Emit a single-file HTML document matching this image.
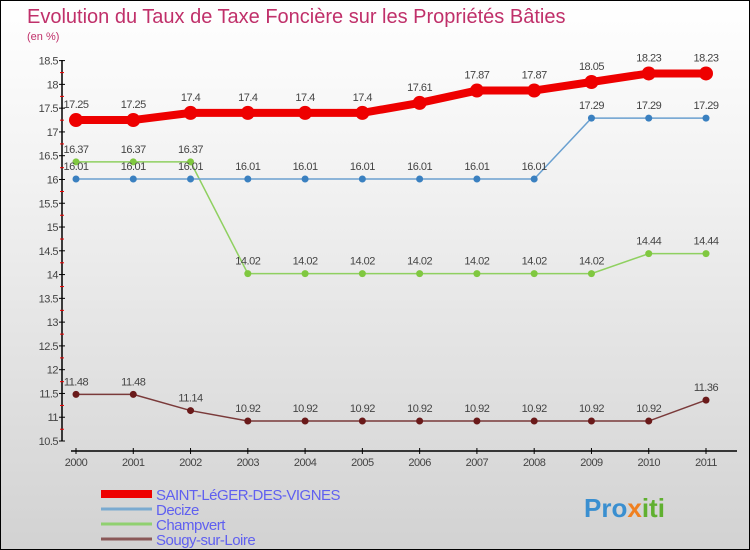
<!DOCTYPE html>
<html><head><meta charset="utf-8"><style>
body{margin:0}
#c{width:750px;height:550px;position:relative;box-sizing:border-box;border:1px solid #000;background:linear-gradient(#ffffff,#f3f3f3 30%,#d2d2d2);font-family:"Liberation Sans",sans-serif;overflow:hidden}
text{font-family:"Liberation Sans",sans-serif}
</style></head><body>
<div id="c">
<svg id="s" width="750" height="550">
<text x="26" y="22" font-size="20" fill="#c0306a">Evolution du Taux de Taxe Foncière sur les Propriétés Bâties</text>
<text x="26" y="39" font-size="11" fill="#c0306a">(en %)</text>
<text x="583" y="516" font-size="26" font-weight="bold" fill="#3a8fd0">Pro<tspan fill="#f08020">x</tspan><tspan fill="#60b030">iti</tspan></text>
</svg>
</div>
<script>
const years=[2000,2001,2002,2003,2004,2005,2006,2007,2008,2009,2010,2011];
const saint=[17.25,17.25,17.4,17.4,17.4,17.4,17.61,17.87,17.87,18.05,18.23,18.23];
const decize=[16.01,16.01,16.01,16.01,16.01,16.01,16.01,16.01,16.01,17.29,17.29,17.29];
const champvert=[16.37,16.37,16.37,14.02,14.02,14.02,14.02,14.02,14.02,14.02,14.44,14.44];
const sougy=[11.48,11.48,11.14,10.92,10.92,10.92,10.92,10.92,10.92,10.92,10.92,11.36];
const yTicks=[10.5,11,11.5,12,12.5,13,13.5,14,14.5,15,15.5,16,16.5,17,17.5,18,18.5];
const seriesNames=["SAINT-LéGER-DES-VIGNES","Decize","Champvert","Sougy-sur-Loire"];
const NS="http://www.w3.org/2000/svg",s=document.getElementById('s');
const X=i=>75+i*(630/11), Y=v=>440-(v-10.5)*47.55;
function el(t,a,p){const e=document.createElementNS(NS,t);for(const k in a)e.setAttribute(k,a[k]);(p||s).appendChild(e);return e;}
let ya=el('line',{x1:61,y1:59,x2:61,y2:440,stroke:'#000','stroke-width':1.5});

let xa=el('line',{x1:70,y1:450,x2:736,y2:450,stroke:'#000','stroke-width':1.5});

yTicks.forEach((v,k)=>{const y=Y(v);
 el('line',{x1:58,y1:y,x2:64,y2:y,stroke:'#000'});
 if(k>0) el('line',{x1:59,y1:y+12,x2:63,y2:y+12,stroke:'#e00'});
 const t=el('text',{x:57,y:y+4,'font-size':11,fill:'#444','text-anchor':'end','letter-spacing':'-0.5'});t.textContent=v;
 });
years.forEach((yr,i)=>{const x=X(i);
 el('line',{x1:x,y1:447,x2:x,y2:453,stroke:'#000'});
 const t=el('text',{x:x,y:465,'font-size':11,fill:'#444','text-anchor':'middle','letter-spacing':'-0.5'});t.textContent=yr;
 });
function series(d,col,w,r,name,lab){
 const g=el('g',{});
 el('polyline',{points:d.map((v,i)=>X(i)+','+Y(v)).join(' '),fill:'none',stroke:col,'stroke-width':w},g);
 d.forEach((v,i)=>{const c=el('circle',{cx:X(i),cy:Y(v),r:r,fill:lab.pt},g);
  
  const t=el('text',{x:X(i),y:Y(v)-lab.dy,'font-size':11,fill:'#444','text-anchor':'middle','letter-spacing':'-0.5'},g);t.textContent=v;});
}
series(sougy,'#7a3a3a',1.5,3.5,'sougy-series',{pt:'#6a1a1a',dy:9});
series(champvert,'#8fd060',1.5,3.5,'champvert-series',{pt:'#80c840',dy:9});
series(decize,'#6aa0d0',1.5,3.5,'decize-series',{pt:'#3a80c0',dy:9});
series(saint,'#ee0000',8,7,'saint-leger-series',{pt:'#ee0000',dy:12});
const lc=['#ee0000','#7aaad0','#90d070','#8a5858'],lw=[8,3,3,3];
seriesNames.forEach((n,i)=>{const y=493+i*15;
 const l=el('line',{x1:100,y1:y,x2:151,y2:y,stroke:lc[i],'stroke-width':lw[i]});
 
 const t=el('text',{x:155,y:y+6,'font-size':15,fill:'#6060f0','letter-spacing':'-0.5'});t.textContent=n;
 });
</script>
</body></html>
